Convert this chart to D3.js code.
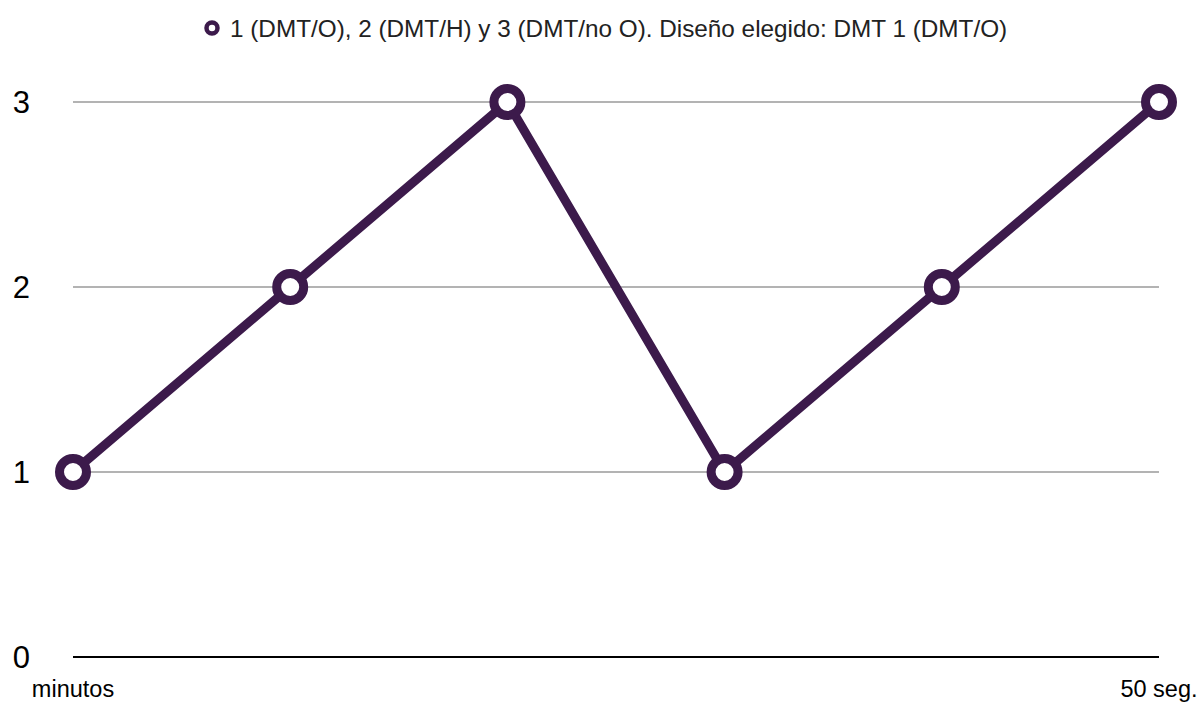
<!DOCTYPE html>
<html>
<head>
<meta charset="utf-8">
<script src="https://cdn.jsdelivr.net/npm/d3@7"></script>
<style>
  body { margin: 0; background: #fff; }
  text { font-family: "Liberation Sans", Arial, sans-serif; }
</style>
</head>
<body>
<svg id="chart" width="1204" height="704"></svg>
<script>
const categories = ["minutos", "", "", "", "", "50 seg."];
const values = [1, 2, 3, 1, 2, 3];
const yTicks = [0, 1, 2, 3];
const seriesName = "1 (DMT/O), 2 (DMT/H) y 3 (DMT/no O). Diseño elegido: DMT 1 (DMT/O)";

const color = "#3c1a4b";
const svg = d3.select("#chart");
const margin = { left: 73, right: 45, top: 102, bottom: 47 };
const W = 1204, H = 704;

const x = d3.scalePoint().domain(d3.range(categories.length)).range([margin.left, W - margin.right]);
const y = d3.scaleLinear().domain([0, 3]).range([H - margin.bottom, margin.top]);

// gridlines
svg.append("g").selectAll("line").data(yTicks.filter(d => d > 0)).join("line")
  .attr("x1", margin.left).attr("x2", W - margin.right)
  .attr("y1", d => y(d)).attr("y2", d => y(d))
  .attr("stroke", "#b3b3b3").attr("stroke-width", 2);

// baseline
svg.append("line")
  .attr("x1", margin.left).attr("x2", W - margin.right)
  .attr("y1", y(0)).attr("y2", y(0))
  .attr("stroke", "#000").attr("stroke-width", 2);

// y labels
svg.append("g").selectAll("text").data(yTicks).join("text")
  .attr("x", 30).attr("y", d => y(d))
  .attr("dy", "0.36em")
  .attr("text-anchor", "end")
  .attr("font-size", 31)
  .attr("fill", "#000")
  .text(d => d);

// x labels
svg.append("g").selectAll("text").data(categories).join("text")
  .attr("x", (d, i) => x(i)).attr("y", 697)
  .attr("text-anchor", "middle")
  .attr("font-size", 23.5)
  .attr("fill", "#000")
  .text(d => d);

// line
const line = d3.line().x((d, i) => x(i)).y(d => y(d));
svg.append("path").datum(values)
  .attr("d", line)
  .attr("fill", "none")
  .attr("stroke", color)
  .attr("stroke-width", 9)
  .attr("stroke-linejoin", "round");

// markers
svg.append("g").selectAll("circle").data(values).join("circle")
  .attr("cx", (d, i) => x(i)).attr("cy", d => y(d))
  .attr("r", 13.5)
  .attr("fill", "#fff")
  .attr("stroke", color)
  .attr("stroke-width", 9);

// legend
const lg = svg.append("g");
lg.append("circle").attr("cx", 212).attr("cy", 28).attr("r", 5.5)
  .attr("fill", "#fff").attr("stroke", color).attr("stroke-width", 4.5);
lg.append("text").attr("x", 230).attr("y", 28).attr("dy", "0.36em")
  .attr("font-size", 24.3).attr("fill", "#222").text(seriesName);
</script>
</body>
</html>
